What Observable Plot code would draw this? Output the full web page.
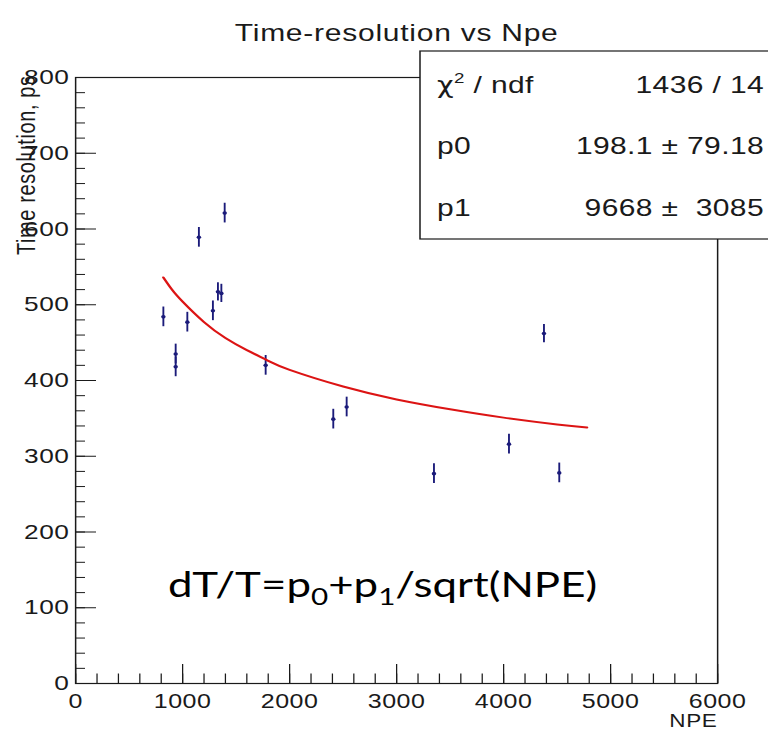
<!DOCTYPE html>
<html>
<head>
<meta charset="utf-8">
<script src="https://cdn.jsdelivr.net/npm/d3@7"></script>
<script src="https://cdn.jsdelivr.net/npm/@observablehq/plot@0.6"></script>
<style>
  html, body { margin: 0; padding: 0; background: #fff; }
  #chart svg { display: block; }
</style>
</head>
<body>
<div id="chart"></div>
<script>
// ---- data ----
const npe   = [820, 935, 935, 1044, 1152, 1283, 1330, 1362, 1393, 1776, 2408, 2533, 3349, 4050, 4377, 4520];
const tres  = [484, 435, 418, 477, 589, 492, 517, 515, 621, 420, 349, 365, 277, 316, 462, 278];
const terr  = [13, 13, 13, 13, 13, 13, 12, 12, 13, 13, 13, 13, 13, 13, 12, 13];

// fitted curve p0 + p1/sqrt(NPE)
const fitX = [820, 900, 1000, 1200, 1400, 1600, 1800, 2000, 2500, 3000, 3500, 4000, 4500, 4780];
const fitY = [536, 520, 504, 477, 456, 440, 426, 414, 392, 375, 362, 351, 342, 338];

const xTicks = [0, 1000, 2000, 3000, 4000, 5000, 6000];
const yTicks = [0, 100, 200, 300, 400, 500, 600, 700, 800];
const xMinor = d3.range(0, 6001, 200);
const yMinor = d3.range(0, 801, 20);

const statValues = ["1436 / 14", "198.1 ± 79.18", "9668 ±  3085"];

const titleText = "Time-resolution vs Npe";
const yLabel = "Time resolution, ps";
const xLabel = "NPE";

// ---- layout ----
const SX = 1.25;                 // horizontal stretch of the reference picture
const W = 768 / SX, H = 734;
const mL = 60, mR = W - 717 / SX, mT = 77, mB = 734 - 683;
const plotW = W - mL - mR, plotH = H - mT - mB;

const pts = npe.map((x, i) => ({x, y: tres[i], e: terr[i]}));
const fit = fitX.map((x, i) => ({x, y: fitY[i]}));

const navy = "#1b1b7a";
const ink = "#1a1a1a";
const font = "'Liberation Sans', Arial, sans-serif";

const svg = Plot.plot({
  width: W, height: H,
  marginLeft: mL, marginRight: mR, marginTop: mT, marginBottom: mB,
  style: {fontFamily: font, background: "#fff", color: ink},
  x: {domain: [0, 6000]},
  y: {domain: [0, 800]},
  marks: [
    // inward ticks
    Plot.ruleY(yTicks, {y: d => d, insetRight: plotW - 21 / SX, stroke: ink, strokeWidth: 1}),
    Plot.ruleY(yMinor, {y: d => d, insetRight: plotW - 10 / SX, stroke: ink, strokeWidth: 1}),
    Plot.ruleX(xTicks, {x: d => d, insetTop: plotH - 19, stroke: ink, strokeWidth: 1}),
    Plot.ruleX(xMinor, {x: d => d, insetTop: plotH - 9.5, stroke: ink, strokeWidth: 1}),
    Plot.frame({stroke: ink, strokeWidth: 1.2}),
    Plot.axisY({ticks: yTicks, tickSize: 0, tickPadding: 5, fontSize: 21, label: null, tickFormat: d => String(d)}),
    Plot.axisX({ticks: xTicks, tickSize: 0, tickPadding: 10, fontSize: 20, label: null, tickFormat: d => String(d)}),
    // data with error bars
    Plot.ruleX(pts, {x: "x", y1: d => d.y - d.e, y2: d => d.y + d.e, stroke: navy, strokeWidth: 1.5}),
    Plot.dot(pts, {x: "x", y: "y", r: 1.8, fill: navy, stroke: null}),
    // fit
    Plot.line(fit, {x: "x", y: "y", stroke: "#dc1414", strokeWidth: 2, curve: "natural"}),
    // texts
    Plot.text([titleText], {frameAnchor: "top", dx: (396 / SX) - (mL + plotW / 2), dy: -54, fontSize: 24, fill: ink}),
    Plot.text([yLabel], {frameAnchor: "top-left", rotate: -90, textAnchor: "end", dx: 17 / SX - mL, dy: -2, fontSize: 20, fill: ink}),
    Plot.text([xLabel], {frameAnchor: "bottom-right", textAnchor: "end", dy: 43, fontSize: 18, fill: ink})
  ]
});

svg.setAttribute("width", 768);
svg.setAttribute("height", 734);
svg.setAttribute("preserveAspectRatio", "none");
svg.style.maxWidth = "none";
document.getElementById("chart").appendChild(svg);

// letter spacing to match the wider ROOT glyphs
d3.select(svg).selectAll("g[aria-label='y-axis tick label'] text, g[aria-label='x-axis tick label'] text")
  .style("letter-spacing", "0.4px");
d3.select(svg).selectAll("g[aria-label='text'] text").style("letter-spacing", "0.6px");

const g = d3.select(svg).append("g")
  .attr("font-family", font).attr("text-anchor", "start");

// statistics box
g.append("rect")
  .attr("x", 420 / SX).attr("y", 51)
  .attr("width", W - 420 / SX + 20).attr("height", 188)
  .attr("fill", "#fff").attr("stroke", ink).attr("stroke-width", 1.2);

const rowY = [85, 146, 208];
const lab0 = g.append("text").attr("x", 437 / SX).attr("y", rowY[0] + 8)
  .attr("font-size", 24).attr("fill", ink).style("white-space", "pre").style("letter-spacing", "0.3px");
lab0.append("tspan").attr("font-family", "'DejaVu Sans', sans-serif").attr("font-size", 23).text("χ");
lab0.append("tspan").attr("font-size", 15).attr("dy", -10).text("2");
lab0.append("tspan").attr("dy", 10).text(" / ndf");
g.append("text").attr("x", 437 / SX).attr("y", rowY[1] + 8)
  .attr("font-size", 24).attr("fill", ink).style("letter-spacing", "0.3px").text("p0");
g.append("text").attr("x", 437 / SX).attr("y", rowY[2] + 8)
  .attr("font-size", 24).attr("fill", ink).style("letter-spacing", "0.3px").text("p1");

statValues.forEach((v, i) => {
  g.append("text")
    .attr("x", 764 / SX).attr("y", rowY[i] + 8)
    .attr("text-anchor", "end")
    .attr("font-size", 24).attr("fill", ink)
    .style("white-space", "pre").style("letter-spacing", "0.3px")
    .text(v);
});

// formula annotation
const ax = 168 / SX, ay = 597;
const annG = g.append("g");
const ann = annG.append("text")
  .attr("x", ax).attr("y", ay)
  .attr("text-anchor", "start")
  .attr("font-family", "Lato, 'Open Sans', sans-serif")
  .attr("font-size", 34).attr("fill", "#000");
ann.append("tspan").text("dT/T=p");
ann.append("tspan").attr("font-size", 23).attr("dy", 8).text("0");
ann.append("tspan").attr("dy", -8).text("+p");
ann.append("tspan").attr("font-size", 23).attr("dy", 8).text("1");
ann.append("tspan").attr("dy", -8).text("/sqrt(NPE)");
const targetW = (597 - 168) / SX;
const bb = ann.node().getBBox();
const k = bb.width > 0 ? targetW / bb.width : 1;
annG.attr("transform", `translate(${ax},0) scale(${k},1) translate(${-ax},0)`);
</script>
</body>
</html>
